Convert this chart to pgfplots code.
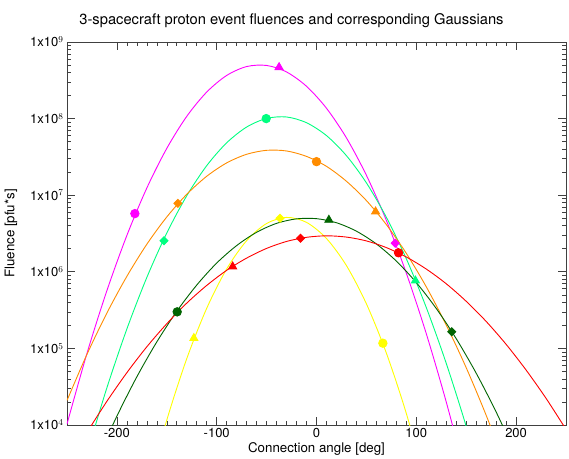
\documentclass[border=0pt]{standalone}
\usepackage{fontspec}
\setmainfont{TeX Gyre Heros}
\usepackage{pgfplots}
\pgfplotsset{compat=1.18}
\definecolor{cmag}{RGB}{255,0,255}
\definecolor{cspr}{RGB}{0,255,128}
\definecolor{corg}{RGB}{255,140,0}
\definecolor{cyel}{RGB}{255,255,0}
\definecolor{cdgr}{RGB}{0,100,0}
\definecolor{cred}{RGB}{255,0,0}
\begin{document}
\begin{tikzpicture}
\begin{axis}[
  name=ax,
  scale only axis, width=499pt, height=383pt,
  xmin=-250, xmax=250, ymode=log, ymin=1e4, ymax=1e9,
  xtick={-200,-100,0,100,200}, minor x tick num=9,
  ytick={1e4,1e5,1e6,1e7,1e8,1e9},
  yticklabels={1x10$^{4}$,1x10$^{5}$,1x10$^{6}$,1x10$^{7}$,1x10$^{8}$,1x10$^{9}$},
  /pgf/number format/assume math mode=true,
  tick label style={font=\fontsize{13}{15}\selectfont},
  tick align=inside, major tick length=8pt, minor tick length=4pt,
  every tick/.style={black!75, line width=0.6pt},
  axis line style={black!75, line width=0.8pt},
  xlabel={Connection angle [deg]}, ylabel={Fluence [pfu*s]},
  label style={font=\fontsize{13.3}{16}\selectfont},
  xlabel style={at={(axis description cs:0.5,-0.0627)}, anchor=center},
  ylabel style={at={(axis description cs:-0.1122,0.5)}, anchor=center},
  every axis plot/.append style={line width=0.9pt},
  dia/.style={only marks, mark=diamond*, mark size=4pt, mark options={xscale=1.33}},
  tri/.style={only marks, mark=triangle*, mark size=4.6pt},
  cir/.style={only marks, mark=*, mark size=4.2pt},
]
% Gaussian fits (magenta)
\addplot[cmag, smooth] coordinates {(-250,1.03e4)(-230,8.61e4)(-210,5.69e5)(-190,2.985e6)(-170,1.242e7)(-150,4.09e7)(-130,1.07e8)(-110,2.22e8)(-90,3.66e8)(-70,4.78e8)(-50,4.94e8)(-30,4.06e8)(-10,2.64e8)(10,1.365e8)(30,5.6e7)(50,1.82e7)(70,4.69e6)(90,9.6e5)(110,1.556e5)(130,2.0e4)(150,2.04e3)};
% spring green
\addplot[cspr, smooth] coordinates {(-230,4.24e3)(-210,3.07e4)(-190,1.795e5)(-170,8.45e5)(-150,3.21e6)(-130,9.84e6)(-110,2.43e7)(-90,4.83e7)(-70,7.76e7)(-50,1.005e8)(-30,1.05e8)(-10,8.83e7)(10,6.0e7)(30,3.28e7)(50,1.45e7)(70,5.15e6)(90,1.48e6)(110,3.42e5)(130,6.38e4)(150,9.6e3)(170,1.164e3)};
% orange
\addplot[corg, smooth] coordinates {(-250,2.09e4)(-230,8.36e4)(-210,2.90e5)(-190,8.73e5)(-170,2.29e6)(-150,5.20e6)(-130,1.028e7)(-110,1.766e7)(-90,2.64e7)(-70,3.42e7)(-50,3.855e7)(-30,3.78e7)(-10,3.21e7)(10,2.38e7)(30,1.52e7)(50,8.51e6)(70,4.13e6)(90,1.74e6)(110,6.37e5)(130,2.02e5)(150,5.6e4)(170,1.34e4)(190,2.8e3)};
% yellow
\addplot[cyel, smooth] coordinates {(-170,1.31e3)(-150,1.16e4)(-130,7.35e4)(-110,3.34e5)(-90,1.09e6)(-70,2.55e6)(-50,4.27e6)(-30,5.13e6)(-10,4.42e6)(10,2.72e6)(30,1.205e6)(50,3.82e5)(70,8.69e4)(90,1.416e4)(110,1.65e3)};
% dark green
\addplot[cdgr, smooth] coordinates {(-220,3.52e3)(-200,1.306e4)(-180,4.26e4)(-160,1.216e5)(-140,3.05e5)(-120,6.71e5)(-100,1.30e6)(-80,2.20e6)(-60,3.28e6)(-40,4.29e6)(-20,4.91e6)(0,4.94e6)(20,4.37e6)(40,3.39e6)(60,2.31e6)(80,1.38e6)(100,7.23e5)(120,3.32e5)(140,1.34e5)(160,4.75e4)(180,1.48e4)(200,4.05e3)};
% red
\addplot[cred, smooth] coordinates {(-250,2.86e3)(-230,7.96e3)(-210,2.04e4)(-190,4.82e4)(-170,1.05e5)(-150,2.10e5)(-130,3.90e5)(-110,6.64e5)(-90,1.045e6)(-70,1.51e6)(-50,2.02e6)(-30,2.49e6)(-10,2.82e6)(10,2.95e6)(30,2.84e6)(50,2.53e6)(70,2.07e6)(90,1.56e6)(110,1.086e6)(130,6.98e5)(150,4.12e5)(170,2.25e5)(190,1.13e5)(210,5.22e4)(230,2.23e4)(250,8.77e3)};
% measured fluences: circles
\addplot[cir, cmag] coordinates {(-182,5.75e6)};
\addplot[cir, cspr] coordinates {(-50.4,1.0e8)};
\addplot[cir, corg] coordinates {(0,2.74e7)};
\addplot[cir, cyel] coordinates {(66.5,1.17e5)};
\addplot[cir, cdgr] coordinates {(-139.6,3.0e5)};
\addplot[cir, cred] coordinates {(82.2,1.77e6)};
% triangles
\addplot[tri, cmag] coordinates {(-37.5,4.68e8)};
\addplot[tri, cspr] coordinates {(99.1,7.66e5)};
\addplot[tri, corg] coordinates {(59.2,6.1e6)};
\addplot[tri, cyel] coordinates {(-122.9,1.36e5)};
\addplot[tri, cdgr] coordinates {(12.4,4.75e6)};
\addplot[tri, cred] coordinates {(-84,1.17e6)};
% diamonds
\addplot[dia, cmag] coordinates {(78.8,2.36e6)};
\addplot[dia, cspr] coordinates {(-152.8,2.55e6)};
\addplot[dia, corg] coordinates {(-138.9,7.83e6)};
\addplot[dia, cyel] coordinates {(-36.5,5.0e6)};
\addplot[dia, cdgr] coordinates {(135.6,1.65e5)};
\addplot[dia, cred] coordinates {(-16,2.74e6)};
\end{axis}
\node[anchor=base, font=\fontsize{14.7}{17}\selectfont] at ([xshift=-25pt, yshift=17pt]ax.north) {3-spacecraft proton event fluences and corresponding Gaussians};
\pgfresetboundingbox
\path[use as bounding box] ([shift={(-67pt,-33pt)}]ax.south west) rectangle ([shift={(3pt,42pt)}]ax.north east);
\end{tikzpicture}
\end{document}
